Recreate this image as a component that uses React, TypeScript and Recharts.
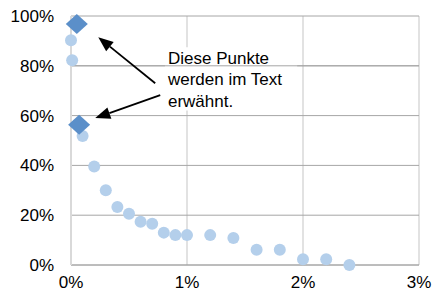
import React from "react";
import {
  CartesianGrid,
  ReferenceArea,
  ReferenceLine,
  Scatter,
  ScatterChart,
  XAxis,
  YAxis,
} from "recharts";

// x in percent, y in percent
const circleX = [0, 0.01, 0.1, 0.2, 0.3, 0.4, 0.5, 0.6, 0.7, 0.8, 0.9, 1.0, 1.2, 1.4, 1.6, 1.8, 2.0, 2.2, 2.4];
const circleY = [90.3, 82.2, 51.8, 39.6, 30, 23.3, 20.6, 17.4, 16.6, 13, 12, 12, 12, 10.8, 6.1, 6.1, 2.3, 2.3, 0];
const diamondX = [0.05, 0.07];
const diamondY = [96.8, 56.3];

const xTicks = [0, 1, 2, 3];
const yTicks = [0, 20, 40, 60, 80, 100];

const noteLines = ["Diese Punkte", "werden im Text", "erwähnt."];
// arrows: [tailX, tailY, tipX, tipY] in data units
const arrows = [
  [0.726, 73.0, 0.235, 91.5],
  [0.769, 68.2, 0.209, 59.0],
];

const circles = circleX.map((x, i) => ({ x, y: circleY[i] }));
const diamonds = diamondX.map((x, i) => ({ x, y: diamondY[i] }));

const font = "'Liberation Sans', Arial, sans-serif";

const Dot = (props: any) => <circle cx={props.cx} cy={props.cy} r={6} fill="#b4cfeb" />;

const Diamond = (props: any) => {
  const { cx, cy } = props;
  return (
    <polygon
      points={`${cx},${cy - 10} ${cx + 11},${cy} ${cx},${cy + 10} ${cx - 11},${cy}`}
      fill="#5b8fc9"
    />
  );
};

const Arrow = (props: any) => {
  const { x1, y1, x2, y2 } = props;
  const ang = Math.atan2(y2 - y1, x2 - x1);
  const len = 15;
  const half = 6;
  const bx = x2 - len * Math.cos(ang);
  const by = y2 - len * Math.sin(ang);
  const px = -Math.sin(ang) * half;
  const py = Math.cos(ang) * half;
  return (
    <g>
      <line x1={x1} y1={y1} x2={bx} y2={by} stroke="#000" strokeWidth={1.8} />
      <polygon points={`${x2},${y2} ${bx + px},${by + py} ${bx - px},${by - py}`} fill="#000" />
    </g>
  );
};

const NoteLabel = (props: any) => {
  const { x, y } = props.viewBox;
  return (
    <text x={x + 3} y={y + 16.5} fontSize={17} fontFamily={font} fill="#000">
      {noteLines.map((t, i) => (
        <tspan key={t} x={x + 3} dy={i === 0 ? 0 : 21.5}>
          {t}
        </tspan>
      ))}
    </text>
  );
};

export default function App() {
  return (
    <div style={{ position: "absolute", left: 0, top: 0, background: "#fff" }}>
      <ScatterChart width={432} height={295} margin={{ top: 16, right: 13, bottom: 6, left: 11 }}>
        <CartesianGrid horizontal={false} stroke="#d9d9d9" strokeWidth={1.5} />
        <CartesianGrid vertical={false} stroke="#a6a6a6" />
        <XAxis
          type="number"
          dataKey="x"
          domain={[0, 3]}
          ticks={xTicks}
          tickFormatter={(v) => `${v}%`}
          tickLine={false}
          tickSize={0}
          tickMargin={11}
          height={24}
          axisLine={{ stroke: "#a6a6a6" }}
          tick={{ fill: "#000", fontSize: 17, fontFamily: font }}
        />
        <YAxis
          type="number"
          dataKey="y"
          domain={[0, 100]}
          ticks={yTicks}
          tickFormatter={(v) => `${v}%`}
          tickLine={false}
          tickSize={0}
          tickMargin={17}
          width={60}
          axisLine={{ stroke: "#d9d9d9", strokeWidth: 2 }}
          tick={{ fill: "#000", fontSize: 17, fontFamily: font }}
        />
        <ReferenceArea
          x1={0.81}
          x2={1.95}
          y1={62}
          y2={87.5}
          fill="#fff"
          fillOpacity={1}
          stroke="none"
          label={<NoteLabel />}
        />
        <ReferenceLine y={80} stroke="#a6a6a6" />
        {arrows.map((a, i) => (
          <ReferenceLine
            key={i}
            segment={[
              { x: a[0], y: a[1] },
              { x: a[2], y: a[3] },
            ]}
            shape={<Arrow />}
          />
        ))}
        <Scatter data={circles} shape={<Dot />} isAnimationActive={false} />
        <Scatter data={diamonds} shape={<Diamond />} isAnimationActive={false} />
      </ScatterChart>
    </div>
  );
}
